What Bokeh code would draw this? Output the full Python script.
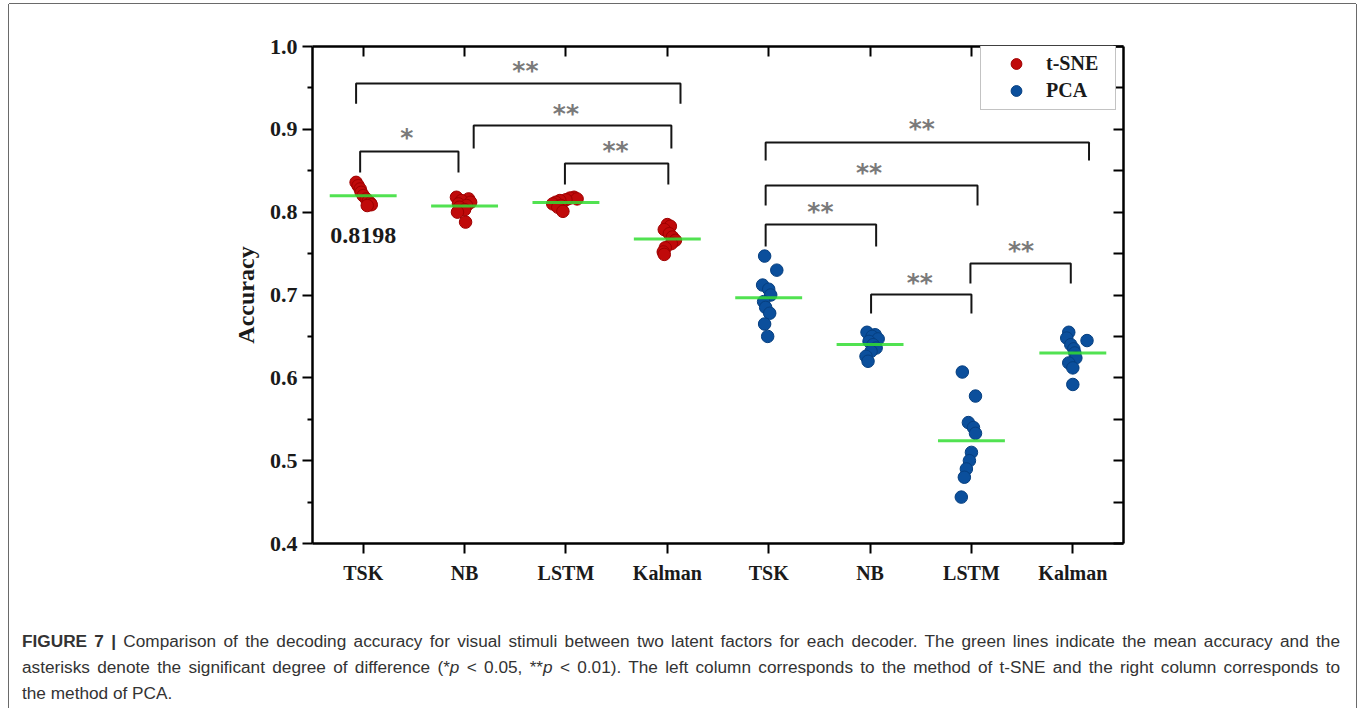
import numpy as np
from bokeh.plotting import figure
from bokeh.layouts import column
from bokeh.models import (ColumnDataSource, LinearAxis, FixedTicker, PrintfTickFormatter,
                          Legend, LegendItem, Label, Range1d, Div, CustomLabelingPolicy)
from bokeh.embed import file_html
from bokeh.resources import INLINE
from bokeh.core.properties import value

# ---------------- data ----------------
decoders = ["TSK", "NB", "LSTM", "Kalman"]
x_labels = decoders + decoders          # left four: t-SNE, right four: PCA
y_ticks = [0.4, 0.5, 0.6, 0.7, 0.8, 0.9, 1.0]
y_minor = [0.45, 0.55, 0.65, 0.75, 0.85, 0.95]

tsne_tsk = [0.836, 0.832, 0.828, 0.824, 0.820, 0.816, 0.813, 0.811, 0.809, 0.808]
tsne_nb = [0.818, 0.816, 0.814, 0.812, 0.810, 0.808, 0.806, 0.803, 0.800, 0.788]
tsne_lstm = [0.818, 0.817, 0.816, 0.815, 0.814, 0.812, 0.810, 0.808, 0.806, 0.801]
tsne_kalman = [0.785, 0.783, 0.779, 0.774, 0.770, 0.766, 0.762, 0.757, 0.752, 0.749]
pca_tsk = [0.747, 0.730, 0.712, 0.707, 0.700, 0.692, 0.685, 0.678, 0.665, 0.650]
pca_nb = [0.655, 0.652, 0.650, 0.647, 0.644, 0.640, 0.636, 0.632, 0.626, 0.620]
pca_lstm = [0.607, 0.578, 0.546, 0.540, 0.533, 0.510, 0.500, 0.490, 0.480, 0.456]
pca_kalman = [0.655, 0.648, 0.645, 0.640, 0.635, 0.630, 0.624, 0.618, 0.612, 0.592]

# horizontal scatter of each point around its category (category units, as read)
jit_tsne_tsk = [-0.07, -0.05, -0.03, -0.02, 0.00, 0.03, 0.05, 0.07, 0.08, 0.04]
jit_tsne_nb = [-0.08, 0.04, -0.03, 0.06, -0.06, 0.02, -0.05, 0.00, -0.07, 0.01]
jit_tsne_lstm = [0.08, 0.04, 0.11, 0.00, -0.06, -0.10, -0.13, -0.05, -0.08, -0.03]
jit_tsne_kalman = [0.00, 0.03, -0.03, 0.02, 0.05, 0.08, 0.04, -0.02, -0.04, -0.03]
jit_pca_tsk = [-0.04, 0.08, -0.06, 0.00, 0.02, -0.05, -0.03, 0.01, -0.04, -0.01]
jit_pca_nb = [-0.03, 0.05, 0.02, 0.08, -0.01, 0.03, 0.06, 0.01, -0.04, -0.02]
jit_pca_lstm = [-0.09, 0.04, -0.03, 0.02, 0.04, 0.00, -0.02, -0.05, -0.07, -0.10]
jit_pca_kalman = [-0.04, -0.06, 0.14, -0.02, 0.01, 0.02, 0.03, -0.04, 0.00, 0.00]

mean_label = "0.8198"

# significance brackets (x in category units, y in accuracy)
br_x0 = [0.93, 2.09, 0.97, 2.99, 4.97, 4.97, 4.97, 6.01, 6.99]
br_x1 = [4.13, 4.04, 1.94, 4.01, 8.16, 7.06, 6.06, 7.00, 7.98]
br_top = [0.9554, 0.9047, 0.8733, 0.8588, 0.8841, 0.8322, 0.7851, 0.7006, 0.7380]
br_bottom = [0.9310, 0.8770, 0.8480, 0.8334, 0.8624, 0.8081, 0.7586, 0.6777, 0.7139]
br_text = ["**", "**", "*", "**", "**", "**", "**", "**", "**"]
br_text_x = [2.60, 3.00, 1.43, 3.49, 6.51, 5.99, 5.51, 6.49, 7.49]
br_text_y = [0.971, 0.919, 0.890, 0.8745, 0.901, 0.848, 0.801, 0.715, 0.754]

cap_bold = "FIGURE 7 |"
cap_line1 = ("Comparison of the decoding accuracy for visual stimuli between two latent factors "
             "for each decoder. The green lines indicate the mean accuracy and the")
cap_line2 = ("asterisks denote the significant degree of difference (*<i>p</i> &lt; 0.05, "
             "**<i>p</i> &lt; 0.01). The left column corresponds to the method of t-SNE and the "
             "right column corresponds to")
cap_line3 = "the method of PCA."

# ---------------- figure ----------------
OX, OY = 9, 4                      # page offset of the layout
FW, FH = 811, 497
FL, FT = 312 - OX, 46 - OY
W, H = 1356 - OX, 610

p = figure(width=W, height=H, output_backend="svg", toolbar_location=None,
           x_range=Range1d(0.5, 8.5), y_range=Range1d(0.4, 1.0),
           x_axis_type=None, y_axis_type=None,
           min_border_left=FL, min_border_top=FT,
           min_border_right=W - FL - FW, min_border_bottom=H - FT - FH)
p.grid.visible = False
p.outline_line_color = None
p.background_fill_color = "white"
p.border_fill_color = "white"

SERIF = "Liberation Serif"
cat_ticks = list(range(1, len(x_labels) + 1))

xb = LinearAxis(ticker=FixedTicker(ticks=cat_ticks, minor_ticks=[]),
                major_label_overrides={i + 1: lab for i, lab in enumerate(x_labels)})
xb.major_label_text_font = SERIF
xb.major_label_text_font_style = "bold"
xb.major_label_text_font_size = "20px"
xb.major_label_text_color = "#1a1a1a"
xb.major_label_standoff = 8
xb.major_tick_in = 0
xb.major_tick_out = 10
xb.axis_line_width = 2.5
xb.major_tick_line_width = 2
p.add_layout(xb, "below")

xt = LinearAxis(ticker=FixedTicker(ticks=cat_ticks, minor_ticks=[]),
                major_label_policy=CustomLabelingPolicy(code="if (false) { yield 0 }"))
xt.major_tick_in = 10
xt.major_tick_out = 0
xt.axis_line_width = 2.5
xt.major_tick_line_width = 2
p.add_layout(xt, "above")

yl = LinearAxis(ticker=FixedTicker(ticks=y_ticks, minor_ticks=y_minor),
                formatter=PrintfTickFormatter(format="%.1f"), axis_label="Accuracy")
yl.major_label_text_font = SERIF
yl.major_label_text_font_style = "bold"
yl.major_label_text_font_size = "22px"
yl.major_label_text_color = "#1a1a1a"
yl.major_label_standoff = 5
yl.major_tick_in = 0
yl.major_tick_out = 10
yl.minor_tick_in = 0
yl.minor_tick_out = 5
yl.axis_line_width = 2.5
yl.major_tick_line_width = 2
yl.minor_tick_line_width = 2
yl.axis_label_text_font = SERIF
yl.axis_label_text_font_style = "bold"
yl.axis_label_text_font_size = "24px"
yl.axis_label_text_color = "#1a1a1a"
yl.axis_label_standoff = 8
p.add_layout(yl, "left")

yr = LinearAxis(ticker=FixedTicker(ticks=sorted(y_ticks + y_minor), minor_ticks=[]),
                major_label_policy=CustomLabelingPolicy(code="if (false) { yield 0 }"))
yr.major_tick_in = 10
yr.major_tick_out = 0
yr.axis_line_width = 2.5
yr.major_tick_line_width = 2
p.add_layout(yr, "right")

# ---------------- points ----------------
tsne_groups = [tsne_tsk, tsne_nb, tsne_lstm, tsne_kalman]
tsne_jit = [jit_tsne_tsk, jit_tsne_nb, jit_tsne_lstm, jit_tsne_kalman]
pca_groups = [pca_tsk, pca_nb, pca_lstm, pca_kalman]
pca_jit = [jit_pca_tsk, jit_pca_nb, jit_pca_lstm, jit_pca_kalman]


def build(groups, jits, start):
    xs, ys = [], []
    for k, (g, j) in enumerate(zip(groups, jits)):
        xs += [start + k + d for d in j]
        ys += list(g)
    return ColumnDataSource(dict(x=xs, y=ys))


src_tsne = build(tsne_groups, tsne_jit, 1)
src_pca = build(pca_groups, pca_jit, 5)

r_tsne = p.scatter("x", "y", source=src_tsne, size=12.5, fill_color="#c00a0a",
                   line_color="#9e0000", line_width=1)
r_pca = p.scatter("x", "y", source=src_pca, size=12.5, fill_color="#0b4f9c",
                  line_color="#063f80", line_width=1)

# mean lines
all_groups = tsne_groups + pca_groups
means = [float(np.mean(g)) for g in all_groups]
mx = np.array(cat_ticks, dtype=float)
p.segment(x0=mx - 0.33, x1=mx + 0.33, y0=means, y1=means,
          line_color="#33dd33", line_width=3, line_alpha=0.85)

p.add_layout(Label(x=1, y=means[0], y_offset=-40, text=mean_label, text_font=SERIF,
                   text_font_style="bold", text_font_size="24px", text_color="#1a1a1a",
                   text_align="center", text_baseline="middle"))

# brackets
bxs = [[a, a, b, b] for a, b in zip(br_x0, br_x1)]
bys = [[lo, hi, hi, lo] for hi, lo in zip(br_top, br_bottom)]
p.multi_line(xs=bxs, ys=bys, line_color="#151515", line_width=2)
p.text(x=br_text_x, y=br_text_y, text=br_text, text_font=value("DejaVu Sans"),
       text_font_style="bold", text_font_size="25px", text_color="#7a7a7a",
       text_align="center", text_baseline="middle")

# legend
legend = Legend(items=[LegendItem(label="t-SNE", renderers=[r_tsne]),
                       LegendItem(label="PCA", renderers=[r_pca])],
                location=(668, 433), padding=5, spacing=0, margin=0,
                glyph_width=60, glyph_height=27, label_height=27, label_width=64,
                label_standoff=0, label_text_font=SERIF, label_text_font_style="bold",
                label_text_font_size="20px", label_text_color="#1a1a1a",
                border_line_color="#888888", border_line_width=1.5,
                background_fill_color="white", background_fill_alpha=1.0)
p.add_layout(legend)

# ---------------- caption ----------------
AR = {' ': 278, '!': 278, '(': 333, ')': 333, '*': 389, ',': 278, '-': 333, '.': 278,
      '<': 584, '|': 260, ':': 278}
for ch in "0123456789":
    AR[ch] = 556
AR.update(dict(zip("ABCDEFGHIJKLMNOPQRSTUVWXYZ",
                   [667, 667, 722, 722, 667, 611, 778, 722, 278, 500, 667, 556, 833,
                    722, 778, 667, 778, 722, 667, 611, 722, 667, 944, 667, 667, 611])))
AR.update(dict(zip("abcdefghijklmnopqrstuvwxyz",
                   [556, 556, 500, 556, 556, 278, 556, 556, 222, 222, 500, 222, 833,
                    556, 556, 556, 556, 333, 500, 278, 556, 500, 722, 500, 500, 500])))


def em(s):
    s = s.replace("<i>", "").replace("</i>", "").replace("&lt;", "<")
    return sum(AR.get(c, 556) for c in s) / 1000.0


CAP_W = 1318
need = max(em(cap_bold + " " + cap_line1) * 1.03, em(cap_line2))
FS = min(17.6, 0.98 * CAP_W / need)

jst = f"display:block;width:{CAP_W}px;text-align:justify;text-align-last:justify;white-space:normal;"
html = (f'<div style="{jst}"><b>{cap_bold}</b> {cap_line1}</div>'
        f'<div style="{jst}">{cap_line2}</div>'
        f'<div style="display:block;width:{CAP_W}px;text-align:left;">{cap_line3}</div>')
cap = Div(text=html, width=CAP_W, height=80, margin=(14, 0, 0, 22 - OX),
          styles={"font-family": "'Liberation Sans', Arial, sans-serif",
                  "font-size": "%.2fpx" % FS, "line-height": "26px", "color": "#333333"})

layout = column(p, cap, margin=(OY, 0, 0, OX), spacing=0,
                styles={"box-shadow": "0 -1px 0 #6a6a6a, -1px 0 0 #6a6a6a, 1px 0 0 #6a6a6a",
                        "background-color": "white"})

open("out.html", "w").write(file_html(layout, INLINE))
